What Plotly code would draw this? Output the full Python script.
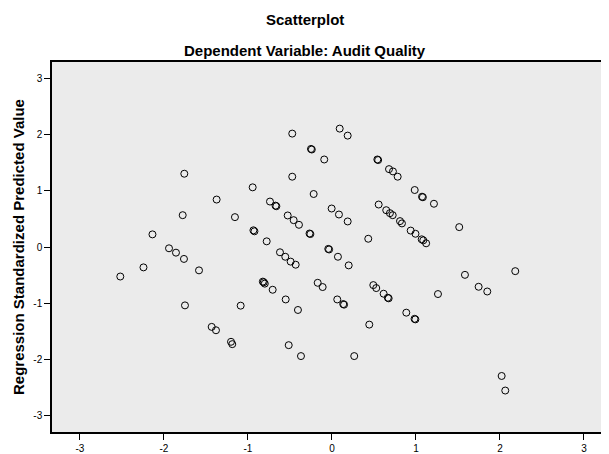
import plotly.graph_objects as go

# Regression Standardized Residual (x) vs Regression Standardized Predicted Value (y)
x_vals = [
    -1.758, -0.944, -1.373, -1.777, -1.155, -0.935, -0.923, -2.137, -1.940, -1.857,
    -1.762, -2.244, -2.520, -1.583, -1.750, -1.087, -1.432, -1.381, -1.202, -1.187,
    -0.473, 0.092, 0.187, -0.250, -0.240, -0.092, 0.540, 0.550, 0.679, 0.726,
    0.782, -0.473, 0.985, 1.072, 1.082, 1.214, -0.218, -0.738, -0.672, -0.662,
    0.556, 0.646, 0.690, 0.723, -0.004, 0.083, 0.187, -0.527, -0.456, -0.393,
    0.810, 0.833, 0.937, 0.994, 1.068, 1.087, 1.121, -0.267, -0.257, -0.777,
    0.432, -0.619, -0.556, -0.492, -0.432, -0.044, -0.034, 0.071, 0.199, -0.823,
    -0.812, -0.800, -0.706, -0.551, -0.405, -0.170, -0.111, 0.063, 0.134, 0.144,
    0.492, 0.527, 0.615, 0.665, 0.675, 1.262, 0.885, 0.983, 0.993, 0.444,
    -0.515, -0.369, 0.265, 1.515, 1.583, 2.182, 1.746, 1.849, 2.020, 2.063,
]
y_vals = [
    1.308, 1.065, 0.847, 0.568, 0.533, 0.298, 0.280, 0.225, -0.023, -0.101,
    -0.213, -0.364, -0.527, -0.417, -1.042, -1.047, -1.426, -1.486, -1.692, -1.734,
    2.024, 2.113, 1.988, 1.750, 1.740, 1.562, 1.562, 1.552, 1.390, 1.349,
    1.255, 1.255, 1.017, 0.898, 0.888, 0.772, 0.946, 0.811, 0.738, 0.728,
    0.758, 0.657, 0.604, 0.568, 0.687, 0.580, 0.456, 0.563, 0.479, 0.396,
    0.462, 0.421, 0.293, 0.236, 0.137, 0.119, 0.066, 0.241, 0.231, 0.101,
    0.147, -0.094, -0.174, -0.261, -0.316, -0.034, -0.044, -0.174, -0.328, -0.618,
    -0.630, -0.654, -0.763, -0.936, -1.124, -0.639, -0.715, -0.936, -1.019, -1.029,
    -0.680, -0.733, -0.834, -0.906, -0.916, -0.840, -1.172, -1.282, -1.292, -1.385,
    -1.752, -1.947, -1.947, 0.355, -0.497, -0.431, -0.710, -0.794, -2.302, -2.562,
]
tick_vals = [-3, -2, -1, 0, 1, 2, 3]
tick_text = ["-3", "-2", "-1", "0", "1", "2", "3"]

title_main = "Scatterplot"
title_sub = "Dependent Variable: Audit Quality"
y_title = "Regression Standardized Predicted Value"

font_family = "Liberation Sans, Arial, sans-serif"

fig = go.Figure()
fig.add_trace(go.Scatter(
    x=x_vals, y=y_vals, mode="markers",
    marker=dict(symbol="circle-open", size=7, color="#000000",
                line=dict(width=1, color="#000000")),
    hoverinfo="x+y", showlegend=False,
))

# the page adds an 8px body margin, so the figure is drawn 8px smaller
W, H = 601, 446
ml, mr, mt, mb = 44, 0, 54, 20
pw = W - ml - mr
ph = H - mt - mb

fig.update_layout(
    width=W, height=H,
    margin=dict(l=ml, r=mr, t=mt, b=mb, pad=0),
    paper_bgcolor="#ffffff",
    plot_bgcolor="#ebebeb",
    font=dict(family=font_family, size=10, color="#000000"),
    xaxis=dict(
        range=[-3.333, 3.298], tickvals=tick_vals, ticktext=tick_text,
        showgrid=False, zeroline=False, showline=True, linecolor="#000000",
        linewidth=1.5, mirror=True, ticks="outside", ticklen=6, tickwidth=1,
        tickcolor="#000000", tickfont=dict(size=10, color="#000000"),
    ),
    yaxis=dict(
        range=[-3.302, 3.302], tickvals=tick_vals, ticktext=tick_text,
        showgrid=False, zeroline=False, showline=True, linecolor="#000000",
        linewidth=1.5, ticks="outside", ticklen=6, tickwidth=1,
        tickcolor="#000000", tickfont=dict(size=10, color="#000000"),
    ),
    annotations=[
        dict(text="<b>%s</b>" % title_main, xref="paper", yref="paper",
             x=(297 - ml) / pw, y=(H - mb - 11) / ph, xanchor="center",
             yanchor="middle", showarrow=False,
             font=dict(size=15, family=font_family, color="#000000")),
        dict(text="<b>%s</b>" % title_sub, xref="paper", yref="paper",
             x=(297 - ml) / pw, y=(H - mb - 42) / ph, xanchor="center",
             yanchor="middle", showarrow=False,
             font=dict(size=15, family=font_family, color="#000000")),
        dict(text="<b>%s</b>" % y_title, xref="paper", yref="paper",
             x=(10 - ml) / pw, y=(H - mb - 240) / ph, xanchor="center",
             yanchor="middle", textangle=-90, showarrow=False,
             font=dict(size=15, family=font_family, color="#000000")),
    ],
)

fig.write_html("out.html")
